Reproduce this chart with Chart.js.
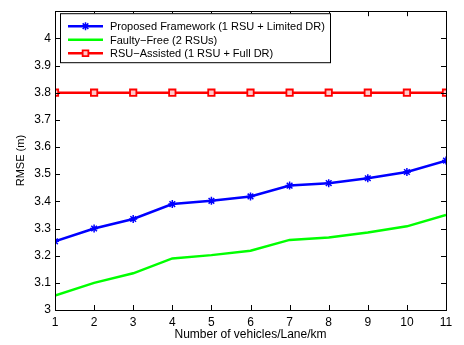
<!DOCTYPE html>
<html><head><meta charset="utf-8">
<script src="https://cdn.jsdelivr.net/npm/chart.js@4/dist/chart.umd.min.js"></script>
<style>html,body{margin:0;padding:0;background:#fff}#wrap{width:464px;height:345px}</style>
</head><body><div id="wrap"><canvas id="c" width="464" height="345"></canvas></div>
<script>
const vehicles = [1,2,3,4,5,6,7,8,9,10,11];
const proposed = [3.253,3.300,3.335,3.390,3.402,3.418,3.458,3.467,3.485,3.508,3.550];
const faultFree = [3.053,3.100,3.135,3.190,3.202,3.218,3.258,3.267,3.285,3.308,3.350];
const rsuAssisted = [3.8,3.8,3.8,3.8,3.8,3.8,3.8,3.8,3.8,3.8,3.8];
const seriesNames = ['Proposed Framework (1 RSU + Limited DR)','Faulty\u2212Free (2 RSUs)','RSU\u2212Assisted (1 RSU + Full DR)'];
const yTicks = [3,3.1,3.2,3.3,3.4,3.5,3.6,3.7,3.8,3.9,4];
const FONT = '"Liberation Sans", Arial, Helvetica, sans-serif';

const pts = arr => vehicles.map((v,i)=>({x:v,y:arr[i]}));

function drawMarker(ctx, style, cx, cy, r, color, fill){
  ctx.save();
  ctx.strokeStyle=color; ctx.lineWidth=1.5;
  ctx.beginPath();
  if(style==='star'){
    for(let k=0;k<4;k++){
      const ang=k*Math.PI/4;
      ctx.moveTo(cx-r*Math.cos(ang),cy-r*Math.sin(ang));
      ctx.lineTo(cx+r*Math.cos(ang),cy+r*Math.sin(ang));
    }
    ctx.stroke();
  } else if(style==='rect'){
    const s=r*Math.SQRT1_2*2*0.9;
    ctx.fillStyle=fill;
    ctx.rect(cx-s/2,cy-s/2,s,s);
    ctx.fill(); ctx.lineWidth=1.8; ctx.stroke();
  }
  ctx.restore();
}

const framePlugin = {
  id:'frame',
  afterDatasetsDraw(chart){
    const {ctx, chartArea:a, scales:{x,y}} = chart;
    ctx.save();
    ctx.strokeStyle='#000'; ctx.lineWidth=1;
    ctx.beginPath();
    const L=5;
    vehicles.forEach(v=>{
      const px=Math.round(x.getPixelForValue(v))+0.5;
      ctx.moveTo(px,a.bottom); ctx.lineTo(px,a.bottom-L);
      ctx.moveTo(px,a.top); ctx.lineTo(px,a.top+L);
    });
    yTicks.forEach(t=>{
      const py=Math.round(y.getPixelForValue(t))+0.5;
      ctx.moveTo(a.left,py); ctx.lineTo(a.left+L,py);
      ctx.moveTo(a.right,py); ctx.lineTo(a.right-L,py);
    });
    ctx.stroke();
    ctx.strokeRect(Math.round(a.left)+0.5,Math.round(a.top)+0.5,Math.round(a.right-a.left),Math.round(a.bottom-a.top));
    // legend
    const bx=a.left+5, by=a.top+2, bw=270, bh=49;
    ctx.fillStyle='#fff'; ctx.fillRect(bx,by,bw,bh);
    ctx.strokeStyle='#000'; ctx.lineWidth=1;
    ctx.strokeRect(bx+0.5,by+0.5,bw,bh);
    chart.data.datasets.forEach((ds,i)=>{
      const cy=by+13+i*13.5;
      ctx.strokeStyle=ds.borderColor; ctx.lineWidth=2.5;
      ctx.beginPath(); ctx.moveTo(bx+8,cy); ctx.lineTo(bx+43,cy); ctx.stroke();
      if(ds.pointRadius>0) drawMarker(ctx, ds.pointStyle, bx+25.5, cy, ds.pointRadius, ds.pointBorderColor, ds.pointBackgroundColor);
      ctx.font='11px '+FONT; ctx.textBaseline='middle'; ctx.textAlign='left'; ctx.fillStyle='#000';
      ctx.fillText(seriesNames[i],bx+50,cy+1);
    });
    ctx.restore();
  }
};

new Chart(document.getElementById('c'),{
  type:'line',
  data:{datasets:[
    {label:seriesNames[0],data:pts(proposed),borderColor:'#0000ff',borderWidth:2.5,pointStyle:'star',pointRadius:4,pointBorderColor:'#0000ff',pointBackgroundColor:'#0000ff',pointBorderWidth:1.5,tension:0},
    {label:seriesNames[1],data:pts(faultFree),borderColor:'#00ff00',borderWidth:2.5,pointRadius:0,pointBorderColor:'#00ff00',pointBackgroundColor:'#00ff00',pointBorderWidth:0,tension:0},
    {label:seriesNames[2],data:pts(rsuAssisted),borderColor:'#ff0000',borderWidth:2.5,pointStyle:'rect',pointRadius:4.5,pointBorderColor:'#ff0000',pointBackgroundColor:'rgba(255,200,200,1)',pointBorderWidth:1.8,tension:0}
  ]},
  options:{
    responsive:false,animation:false,
    layout:{padding:{left:14,right:18,top:11,bottom:0}},
    plugins:{legend:{display:false},tooltip:{enabled:false}},
    scales:{
      x:{type:'linear',min:1,max:11,
        ticks:{stepSize:1,color:'#000',font:{family:FONT,size:12},padding:5,maxRotation:0},
        grid:{display:false,drawTicks:false,tickLength:0},border:{display:false},
        title:{display:true,text:'Number of vehicles/Lane/km',color:'#000',font:{family:FONT,size:12},padding:{top:0,bottom:3}},
        afterFit(s){s.height=35;}
      },
      y:{min:3,max:4.1,
        afterBuildTicks(s){s.ticks=yTicks.map(v=>({value:v}));},
        ticks:{color:'#000',font:{family:FONT,size:12},padding:4,callback:v=>String(Math.round(v*10)/10)},
        grid:{display:false,drawTicks:false,tickLength:0},border:{display:false},
        title:{display:true,text:'RMSE (m)',color:'#000',font:{family:FONT,size:11},padding:{top:0,bottom:0}},
        afterFit(s){s.width=41;}
      }
    }
  },
  plugins:[framePlugin]
});
</script></body></html>
